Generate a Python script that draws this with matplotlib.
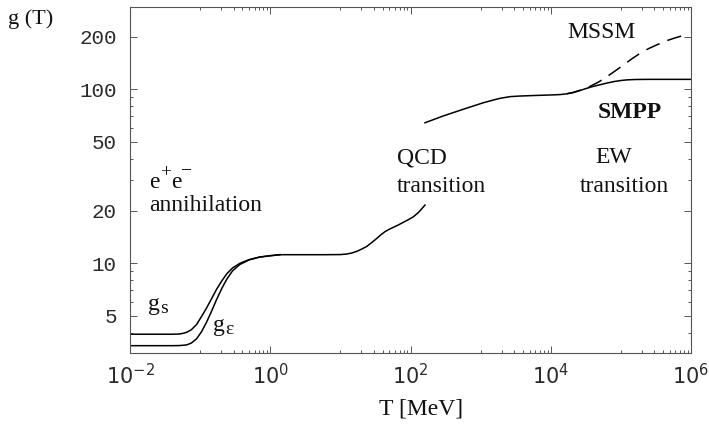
import matplotlib
matplotlib.use("Agg")
import matplotlib.pyplot as plt
from matplotlib.ticker import FixedLocator, NullFormatter

plt.rcParams["mathtext.fontset"] = "custom"
plt.rcParams["mathtext.rm"] = "Liberation Mono"

SERIF = "Liberation Serif"
MONO = "Liberation Mono"

# e+e- annihilation region: entropy (g_s) and energy (g_eps) degrees of freedom
T_ann = [0.01, 0.04, 0.05, 0.058, 0.065, 0.075, 0.089, 0.105, 0.124, 0.147,
         0.172, 0.205, 0.24, 0.29, 0.37, 0.5, 0.7, 1.0, 1.37]
gs_ann = [3.91, 3.91, 3.92, 3.96, 4.02, 4.15, 4.45, 4.95, 5.55, 6.3,
          7.1, 7.95, 8.7, 9.4, 10.0, 10.5, 10.85, 11.05, 11.2]
ge_ann = [3.36, 3.36, 3.365, 3.38, 3.40, 3.48, 3.68, 4.05, 4.6, 5.35,
          6.2, 7.2, 8.1, 9.05, 9.85, 10.45, 10.85, 11.05, 11.2]

# hadron gas up to the QCD transition
T_had = [1.37, 3.0, 6.0, 10.0, 12.3, 14.5, 17.1, 20.0, 23.8, 28.0, 33.1, 38.0,
         43.4, 50.0, 57.1, 67.0, 79.2, 93.0, 110, 130, 161]
g_had = [11.2, 11.2, 11.2, 11.22, 11.3, 11.45, 11.7, 12.05, 12.5, 13.15, 13.9, 14.6,
         15.2, 15.7, 16.1, 16.6, 17.2, 17.8, 18.5, 19.6, 21.6]

# quark-gluon plasma, Standard Model particle content
T_sm = [161, 295, 569, 1097, 1500, 1897, 2630, 3600, 5080, 7000, 9800, 13600,
        17000, 21100, 26000, 32700, 40000, 50700, 63000, 78400, 100000, 121600,
        160000, 250000, 1e6]
g_sm = [64.2, 70.3, 76.8, 83.7, 86.6, 88.7, 90.7, 91.4, 91.9, 92.3, 92.7, 93.2,
        94.2, 95.8, 98.3, 101.3, 103.8, 106.2, 108.5, 110.6, 112.3, 113.2,
        113.8, 114.0, 114.0]

# minimal supersymmetric extension
T_mssm = [17000, 21100, 28000, 36500, 48000, 63000, 83000, 109000, 145000,
          188000, 250000, 326000, 430000, 563000, 720000, 872000]
g_mssm = [94.2, 96.0, 99.5, 104, 110, 118, 127.5, 138, 150,
          161, 171.5, 180, 189, 196, 202, 208]

x_major = [1e-2, 1e0, 1e2, 1e4, 1e6]
x_labels = [r"$\mathregular{10^{-2}}$", r"$\mathregular{10^{0}}$",
            r"$\mathregular{10^{2}}$", r"$\mathregular{10^{4}}$",
            r"$\mathregular{10^{6}}$"]
x_minor = [k * 10.0 ** e for e in (-1, 1, 3, 5) for k in range(1, 10)]
y_major = [5, 10, 20, 50, 100, 200]
y_labels = ["5", "10", "20", "50", "100", "200"]
y_minor = [4, 6, 7, 8, 9, 30, 40, 60, 70, 80, 90]

W, H = 709, 425
fig = plt.figure(figsize=(W / 100, H / 100), dpi=100)
ax = fig.add_axes([130 / W, 1 - 353 / H, 561 / W, 346 / H])
ax.set_xscale("log")
ax.set_yscale("log")

lw = 1.1
ax.plot(T_ann, gs_ann, color="black", lw=lw)
ax.plot(T_ann, ge_ann, color="black", lw=lw)
ax.plot(T_had, g_had, color="black", lw=lw)
ax.plot(T_sm, g_sm, color="black", lw=lw)
ax.plot(T_mssm, g_mssm, color="black", lw=lw, linestyle=(0, (9.5, 5.5)))

ax.set_xlim(1e-2, 1e6)
ax.set_ylim(3.05, 297)

ax.xaxis.set_major_locator(FixedLocator(x_major))
ax.xaxis.set_minor_locator(FixedLocator(x_minor))
ax.yaxis.set_major_locator(FixedLocator(y_major))
ax.yaxis.set_minor_locator(FixedLocator(y_minor))
ax.xaxis.set_minor_formatter(NullFormatter())
ax.yaxis.set_minor_formatter(NullFormatter())
ax.set_xticklabels(x_labels, fontsize=15, color="#2a2a2a")
ax.set_yticklabels(y_labels, fontsize=15, color="#2a2a2a", fontfamily=MONO)

spine_c = "#555555"
for s in ax.spines.values():
    s.set_color(spine_c)
    s.set_linewidth(0.8)
ax.tick_params(which="both", direction="in", top=True, right=True,
               color=spine_c, width=0.7)
ax.tick_params(which="major", length=5)
ax.tick_params(which="minor", length=2.5)
ax.tick_params(axis="y", which="major", pad=9.4)
ax.tick_params(axis="x", which="major", pad=7)

# annotations
fs = 17
ink = "#111111"
txt = dict(fontsize=fs, fontfamily=SERIF, color=ink, ha="left", va="baseline")
small = dict(fontfamily=SERIF, color=ink, va="baseline", ha="left",
             textcoords="offset points")


def piece(x, y, s, dx, dy, size):
    ax.annotate(s, xy=(x, y), xytext=(dx, dy), fontsize=size, **small)


# e+ e- with raised charge signs, laid out side by side
ee_x, ee_y = 0.0187, 27.1
ax.text(ee_x, ee_y, "e", **txt)
piece(ee_x, ee_y, "+", 7.6, 8.0, 14)
piece(ee_x, ee_y, "e", 15.6, 0.0, fs)
piece(ee_x, ee_y, "\u2212", 23.3, 8.5, 14)
ax.text(0.0187, 19.95, "annihilation", **txt)

# g_s and g_eps with lowered indices
ax.text(0.0181, 5.4, "g", **txt)
piece(0.0181, 5.4, "s", 8.6, -2.0, 14)
ax.text(0.153, 4.08, "g", **txt)
piece(0.153, 4.08, "\u03b5", 8.6, -2.0, 14)

ax.text(64.4, 37.5, "QCD", **txt)
ax.text(64.4, 25.7, "transition", **txt)
ax.text(43000, 37.5, "EW", **txt)
ax.text(26200, 25.7, "transition", **txt)
ax.text(17100, 198, "MSSM", **txt)
ax.text(47400, 68.5, "SMPP", fontweight="bold", **txt)

fig.text(8 / W, 1 - 24 / H, "g (T)", fontsize=16, fontfamily=SERIF,
         color=ink, ha="left", va="baseline")
fig.text(421 / W, 1 - 415 / H, "T [MeV]", fontsize=17, fontfamily=SERIF,
         color=ink, ha="center", va="baseline")

fig.savefig("out.png", dpi=100)
